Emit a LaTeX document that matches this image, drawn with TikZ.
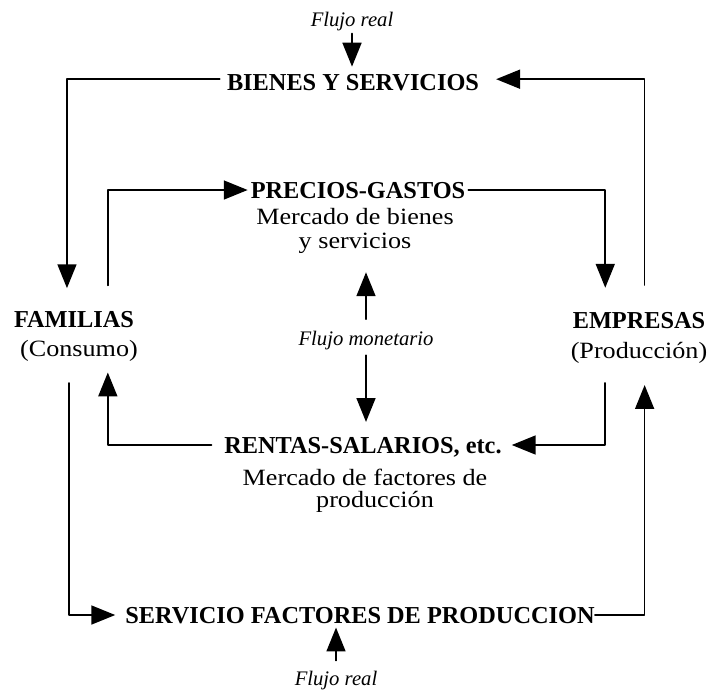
\documentclass[tikz,border=0pt]{standalone}
\usepackage{fontspec}
\setmainfont{Liberation Serif}
\newfontfamily\widefont{Liberation Serif}[FakeStretch=1.12]
\usetikzlibrary{arrows.meta}

\begin{document}
\begin{tikzpicture}[line cap=round,line join=round,>={Triangle[length=17pt,width=13.5pt]},x=0.025cm,y=-0.025cm,
            flujo/.style={line width=1.2pt},
            titulo/.style={inner sep=0pt,text depth=0pt,font=\fontsize{17.3}{20}\selectfont\bfseries},
            texto/.style={inner sep=0pt,anchor=base,font=\fontsize{16.6}{20}\widefont},
            nota/.style={inner sep=0pt,anchor=base,font=\fontsize{14.7}{18}\selectfont\itshape}]
            \clip(0,0) rectangle (708,693);

            % flujo real arriba
            \node [nota] (fr1) at (352,26) {Flujo real};
            \node [titulo] (bien) at (353,82) {BIENES Y SERVICIOS};

            \node [titulo] (prec) at (358,190) {PRECIOS-GASTOS};
            \node [texto] (mb1) at (355,224) {Mercado de bienes};
            \node [texto] (mb2) at (355,248) {y servicios};

            \node [titulo] (fam) at (74,319) {FAMILIAS};
            \node [texto] (con) at (79,356) {(Consumo)};
            \node [titulo] (emp) at (639,320) {EMPRESAS};
            \node [texto] (pro) at (639,358) {(Producción)};

            \node [nota] (fmon) at (366,345) {Flujo monetario};

            \node [titulo] (rent) at (363,445) {RENTAS-SALARIOS, etc.};
            \node [texto] (mf1) at (365,485) {Mercado de factores de};
            \node [texto] (mf2) at (375,507) {producción};

            % flujo real abajo
            \node [titulo] (serv) at (360,615) {SERVICIO FACTORES DE PRODUCCION};
            \node [nota] (fr2) at (336,685) {Flujo real};

            \draw [->,flujo,shorten <=2pt,shorten >=5pt] (fr1.south) -- (fr1.south |- bien.north);
            \draw [->,flujo,shorten <=5pt,shorten >=16pt] ([yshift=2pt]bien.west) -| ([xshift=-5pt]fam.north);
            \draw [->,flujo,shorten <=19pt,shorten >=12pt] ([xshift=4pt]emp.north) |- ([yshift=2pt]bien.east);

            \draw [->,flujo,shorten <=18pt,shorten >=2pt] ([xshift=24pt]fam.north) |- (prec.west);
            \draw [->,flujo,shorten <=2pt,shorten >=17pt] (prec.east) -| ([xshift=-24pt]emp.north);

            \draw [->,flujo,shorten <=8pt,shorten >=13.5pt] (fmon.north) -- (fmon.north |- mb2.south);
            \draw [->,flujo,shorten <=4pt,shorten >=10.5pt] (fmon.south) -- (fmon.south |- rent.north);

            \draw [->,flujo,shorten <=9pt,shorten >=8pt] (rent.west) -| ([xshift=20.5pt]con.south);
            \draw [->,flujo,shorten <=14pt,shorten >=7pt] ([xshift=-24pt]pro.south) |- (rent.east);

            \draw [->,flujo,shorten <=15.5pt,shorten >=7pt] ([xshift=-7pt]con.south) |- (serv.west);
            \draw [->,flujo,shorten >=15.5pt] (serv.east) -| ([xshift=4pt]pro.south);

            \draw [->,flujo,shorten <=7pt,shorten >=3pt] (fr2.north) -- (fr2.north |- serv.south);
\end{tikzpicture}
\end{document}
